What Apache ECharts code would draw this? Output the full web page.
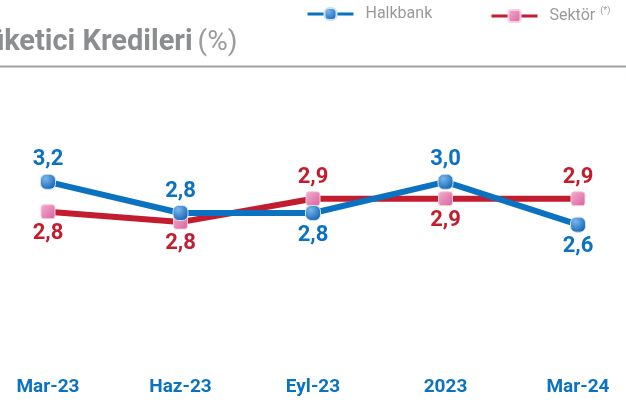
<!DOCTYPE html>
<html>
<head>
<meta charset="utf-8">
<script src="https://cdn.jsdelivr.net/npm/echarts@6/dist/echarts.min.js"></script>
<style>
  html, body { margin: 0; padding: 0; background: #fff; }
  #main { width: 626px; height: 407px; }
</style>
</head>
<body>
<div id="main"></div>
<script>
// donemler (x ekseni)
var categories = ['Mar-23', 'Haz-23', 'Eyl-23', '2023', 'Mar-24'];
// cizimdeki konumlardan okunan degerler
var halkbank = [3.04, 2.80, 2.80, 3.04, 2.71];
var sektor = [2.81, 2.73, 2.91, 2.91, 2.91];
// grafikte yazan etiketler
var halkbankLabels = ['3,2', '2,8', '2,8', '3,0', '2,6'];
var sektorLabels = ['2,8', '2,8', '2,9', '2,9', '2,9'];
var halkbankLabelPos = ['top', 'top', 'bottom', 'top', 'bottom'];
var sektorLabelPos = ['bottom', 'bottom', 'top', 'bottom', 'top'];

var FONT = '"Liberation Sans Narrow", Roboto, sans-serif';
var BLUE = '#0b71c1';
var RED = '#c21d2f';
// yuvarlatilmis kare isaretler
var ROUND_BIG = 'path://M3.8,0H6.2A3.8,3.8,0,0,1,10,3.8V6.2A3.8,3.8,0,0,1,6.2,10H3.8A3.8,3.8,0,0,1,0,6.2V3.8A3.8,3.8,0,0,1,3.8,0Z';
var ROUND_SMALL = 'path://M2,0H8A2,2,0,0,1,10,2V8A2,2,0,0,1,8,10H2A2,2,0,0,1,0,8V2A2,2,0,0,1,2,0Z';

var myChart = echarts.init(document.getElementById('main'));

function makeData(vals, labels, pos) {
    var out = [];
    for (var i = 0; i < vals.length; ++i) {
        out.push({
            value: vals[i],
            label: { position: pos[i], formatter: labels[i] }
        });
    }
    return out;
}

var blueMarker = new echarts.graphic.RadialGradient(0.35, 0.3, 0.8, [
    { offset: 0, color: '#7ab6ec' },
    { offset: 1, color: '#0b5fae' }
]);
var pinkMarker = new echarts.graphic.LinearGradient(0, 0, 1, 1, [
    { offset: 0, color: '#f4b0d0' },
    { offset: 1, color: '#d8609a' }
]);

var legendText = {
    fontFamily: FONT,
    fontSize: 16,
    color: '#9a9a9a',
    padding: [0, 0, 0, 7],
    rich: {
        s: { fontFamily: FONT, fontSize: 9, color: '#9a9a9a', padding: [0, 0, 11, 5] }
    }
};

option = {
    animation: false,
    title: {
        text: '{b|Tüketici Kredileri} {n|(%)}',
        left: -29,
        top: 28,
        padding: 0,
        textStyle: {
            rich: {
                b: { fontFamily: FONT, fontWeight: 'bold', fontSize: 29, color: '#8b8d8f' },
                n: { fontFamily: FONT, fontWeight: 'normal', fontSize: 28, color: '#9c9c9c' }
            }
        }
    },
    legend: [
        {
            data: ['Halkbank'],
            left: 306,
            top: 6,
            padding: 0,
            itemWidth: 46,
            itemHeight: 15,
            lineStyle: { width: 3 },
            textStyle: legendText
        },
        {
            data: ['Sektör'],
            left: 490,
            top: 6,
            padding: 0,
            itemWidth: 46,
            itemHeight: 15,
            lineStyle: { width: 3 },
            formatter: 'Sektör{s|(*)}',
            textStyle: legendText
        }
    ],
    graphic: [{
        type: 'line',
        shape: { x1: 0, y1: 66.5, x2: 626, y2: 66.5 },
        style: { stroke: '#9ca29e', lineWidth: 2 }
    }],
    grid: {
        left: 48,
        right: 48,
        top: 83,
        bottom: 64
    },
    xAxis: {
        type: 'category',
        data: categories,
        boundaryGap: false,
        axisLine: { show: false },
        axisTick: { show: false },
        axisLabel: {
            margin: 35,
            fontFamily: FONT,
            fontWeight: 'bold',
            fontSize: 19,
            color: BLUE
        }
    },
    yAxis: {
        type: 'value',
        min: 1.8,
        max: 3.8,
        show: false,
        splitLine: { show: false }
    },
    series: [
        {
            name: 'Sektör',
            type: 'line',
            z: 2,
            symbol: ROUND_SMALL,
            symbolSize: 14,
            lineStyle: { color: RED, width: 6 },
            itemStyle: { color: pinkMarker, borderColor: '#f6d0e2', borderWidth: 1 },
            label: {
                show: true,
                distance: 3,
                fontFamily: FONT,
                fontWeight: 'bold',
                fontSize: 22,
                color: RED
            },
            data: makeData(sektor, sektorLabels, sektorLabelPos)
        },
        {
            name: 'Halkbank',
            type: 'line',
            z: 3,
            symbol: ROUND_BIG,
            symbolSize: 15,
            lineStyle: { color: BLUE, width: 6 },
            itemStyle: { color: blueMarker, borderColor: '#cfe3f5', borderWidth: 1 },
            label: {
                show: true,
                distance: 3,
                fontFamily: FONT,
                fontWeight: 'bold',
                fontSize: 22,
                color: BLUE
            },
            data: makeData(halkbank, halkbankLabels, halkbankLabelPos)
        }
    ]
};

myChart.setOption(option);
</script>
</body>
</html>
